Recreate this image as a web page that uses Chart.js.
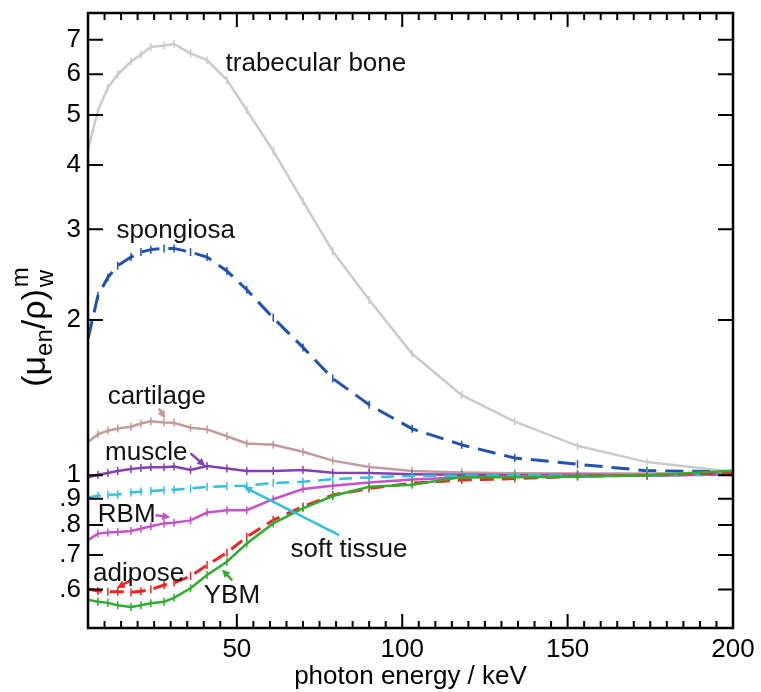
<!DOCTYPE html>
<html>
<head>
<meta charset="utf-8">
<title>mass energy absorption ratio</title>
<script src="https://cdn.jsdelivr.net/npm/chart.js@4.4.0/dist/chart.umd.min.js"></script>
<style>
    html, body { margin: 0; padding: 0; background: #fff; }
    #wrap { width: 761px; height: 692px; position: relative; }
</style>
</head>
<body>
<div id="wrap"><canvas id="chart"></canvas></div>
<script>
// photon energies (keV) of the plotted points
const energies = [5, 8, 11, 14, 18, 21, 24, 28, 31, 36, 41, 47, 53, 61, 70, 79, 90, 103, 118, 134, 153, 174, 200];

// (mu_en/rho) ratio medium / water
const trabecularBone = [4.28, 5.10, 5.65, 6.00, 6.35, 6.55, 6.78, 6.82, 6.87, 6.59, 6.39, 5.85, 5.11, 4.26, 3.40, 2.72, 2.19, 1.72, 1.43, 1.27, 1.14, 1.06, 1.015];
const spongiosa = [1.84, 2.23, 2.42, 2.55, 2.65, 2.71, 2.74, 2.755, 2.755, 2.71, 2.65, 2.49, 2.29, 2.02, 1.77, 1.54, 1.37, 1.23, 1.145, 1.08, 1.05, 1.02, 1.015];
const cartilage = [1.16, 1.20, 1.22, 1.232, 1.242, 1.26, 1.272, 1.265, 1.264, 1.236, 1.227, 1.19, 1.152, 1.145, 1.11, 1.067, 1.037, 1.019, 1.012, 1.008, 1.007, 1.007, 1.01];
const muscle = [0.99, 1.002, 1.01, 1.019, 1.028, 1.033, 1.036, 1.036, 1.039, 1.023, 1.042, 1.03, 1.019, 1.019, 1.023, 1.011, 1.01, 1.004, 1.002, 1.0, 1.002, 0.998, 1.005];
const softTissue = [0.905, 0.912, 0.916, 0.917, 0.925, 0.929, 0.932, 0.935, 0.937, 0.942, 0.949, 0.952, 0.954, 0.965, 0.971, 0.982, 0.99, 0.996, 0.998, 0.999, 1.0, 0.998, 1.003];
const rbm = [0.748, 0.770, 0.774, 0.776, 0.779, 0.787, 0.796, 0.806, 0.808, 0.817, 0.846, 0.855, 0.855, 0.898, 0.940, 0.954, 0.968, 0.981, 0.99, 0.995, 1.0, 0.998, 1.003];
const adipose = [0.601, 0.596, 0.594, 0.594, 0.592, 0.595, 0.600, 0.612, 0.618, 0.637, 0.669, 0.707, 0.759, 0.818, 0.869, 0.915, 0.942, 0.965, 0.978, 0.985, 0.995, 1.0, 1.01];
const ybm = [0.573, 0.568, 0.565, 0.559, 0.555, 0.559, 0.564, 0.568, 0.578, 0.603, 0.640, 0.679, 0.737, 0.806, 0.862, 0.911, 0.949, 0.958, 0.992, 0.991, 0.993, 1.0, 1.02];

// axis ticks
const xTickValues = [50, 100, 150, 200];
const yTickValues = [0.6, 0.7, 0.8, 0.9, 1, 2, 3, 4, 5, 6, 7];

// curve labels and their arrows, in data units (keV, ratio)
const curveLabels = [
    { text: 'trabecular bone', x: 73.9, y: 6.28 },
    { text: 'spongiosa', x: 31.5, y: 2.98 },
    { text: 'cartilage', x: 25.8, y: 1.42 },
    { text: 'muscle', x: 22.6, y: 1.106 },
    { text: 'RBM', x: 16.7, y: 0.836 },
    { text: 'soft tissue', x: 83.9, y: 0.715 },
    { text: 'adipose', x: 20.3, y: 0.642 },
    { text: 'YBM', x: 48.5, y: 0.582 }
];
const labelArrows = [
    { color: '#c49a9a', from: [26.4, 1.348], to: [28.4, 1.288] },
    { color: '#8340b3', from: [36.0, 1.102], to: [40.5, 1.041] },
    { color: '#c652c6', from: [25.4, 0.836], to: [29.9, 0.828] },
    { color: '#35bfdf', from: [80.9, 0.765], to: [52.1, 0.949] },
    { color: '#ee2525', from: [17.8, 0.625], to: [13.7, 0.603] },
    { color: '#30ad30', from: [48.6, 0.625], to: [45.5, 0.656] }
];

const FONT = '"Liberation Sans", Arial, Helvetica, sans-serif';

function series(label, values, color, width, dash) {
    return {
        label: label,
        data: values.map((v, i) => ({ x: energies[i], y: v })),
        borderColor: color,
        backgroundColor: color,
        borderWidth: width,
        borderDash: dash || [],
        pointStyle: 'line',
        rotation: 90,
        pointRadius: 4,
        pointBorderWidth: 1.5,
        pointBorderColor: color,
        tension: 0,
        fill: false
    };
}

// frame, inward ticks and axis titles
const framePlugin = {
    id: 'frame',
    afterDraw(chart) {
        const ctx = chart.ctx;
        const area = chart.chartArea;
        const xs = chart.scales.x;
        const ys = chart.scales.y;

        ctx.save();
        ctx.strokeStyle = '#000';
        ctx.lineWidth = 2.5;
        ctx.strokeRect(area.left, area.top, area.right - area.left, area.bottom - area.top);

        ctx.lineWidth = 2;
        ctx.beginPath();
        for (let e = 10; e < 200; e += 5) {
            const px = xs.getPixelForValue(e);
            const len = e % 50 === 0 ? 14 : 7;
            ctx.moveTo(px, area.bottom);
            ctx.lineTo(px, area.bottom - len);
            ctx.moveTo(px, area.top);
            ctx.lineTo(px, area.top + len);
        }
        yTickValues.forEach(v => {
            const py = ys.getPixelForValue(v);
            ctx.moveTo(area.left, py);
            ctx.lineTo(area.left + 15, py);
            ctx.moveTo(area.right, py);
            ctx.lineTo(area.right - 15, py);
        });
        ctx.stroke();

        // x title
        ctx.fillStyle = '#000';
        ctx.font = '26px ' + FONT;
        ctx.textAlign = 'center';
        ctx.textBaseline = 'middle';
        ctx.fillText('photon energy / keV', (area.left + area.right) / 2, 677);

        // y title: (μ_en/ρ)^m_w, rotated
        const big = '34px ' + FONT;
        const small = '24px ' + FONT;
        const parts = [
            { t: '(μ', f: big, dy: 0 },
            { t: 'en', f: small, dy: 7 },
            { t: '/ρ)', f: big, dy: 0 }
        ];
        let total = 0;
        parts.forEach(p => { ctx.font = p.f; p.w = ctx.measureText(p.t).width; total += p.w; });
        ctx.font = small;
        const supW = Math.max(ctx.measureText('m').width, ctx.measureText('w').width);
        total += supW;

        ctx.translate(45, 328);
        ctx.rotate(-Math.PI / 2);
        ctx.textAlign = 'left';
        ctx.textBaseline = 'alphabetic';
        let cx = -total / 2;
        parts.forEach(p => {
            ctx.font = p.f;
            ctx.fillText(p.t, cx, p.dy);
            cx += p.w;
        });
        ctx.font = small;
        ctx.fillText('m', cx + 2, -17);
        ctx.fillText('w', cx + 2, 8);
        ctx.restore();
    }
};

// curve names with small arrows pointing at the curves
const labelPlugin = {
    id: 'curveLabels',
    afterDatasetsDraw(chart) {
        const ctx = chart.ctx;
        const xs = chart.scales.x;
        const ys = chart.scales.y;
        ctx.save();

        labelArrows.forEach(a => {
            const x1 = xs.getPixelForValue(a.from[0]);
            const y1 = ys.getPixelForValue(a.from[1]);
            const x2 = xs.getPixelForValue(a.to[0]);
            const y2 = ys.getPixelForValue(a.to[1]);
            const ang = Math.atan2(y2 - y1, x2 - x1);
            const head = 9;
            ctx.strokeStyle = a.color;
            ctx.fillStyle = a.color;
            ctx.lineWidth = 2.5;
            ctx.beginPath();
            ctx.moveTo(x1, y1);
            ctx.lineTo(x2 - Math.cos(ang) * head * 0.8, y2 - Math.sin(ang) * head * 0.8);
            ctx.stroke();
            ctx.beginPath();
            ctx.moveTo(x2, y2);
            ctx.lineTo(x2 - head * Math.cos(ang - 0.45), y2 - head * Math.sin(ang - 0.45));
            ctx.lineTo(x2 - head * Math.cos(ang + 0.45), y2 - head * Math.sin(ang + 0.45));
            ctx.closePath();
            ctx.fill();
        });

        ctx.fillStyle = '#111';
        ctx.font = '26px ' + FONT;
        ctx.textAlign = 'center';
        ctx.textBaseline = 'middle';
        curveLabels.forEach(l => {
            ctx.fillText(l.text, xs.getPixelForValue(l.x), ys.getPixelForValue(l.y));
        });
        ctx.restore();
    }
};

const ctx = document.getElementById('chart').getContext('2d');
const chart = new Chart(ctx, {
    type: 'line',
    data: {
        datasets: [
            series('YBM', ybm, '#30ad30', 2.5),
            series('adipose', adipose, '#ee2525', 3, [14, 8]),
            series('soft tissue', softTissue, '#35bfdf', 2.5, [13, 8]),
            series('RBM', rbm, '#c652c6', 2.5),
            series('muscle', muscle, '#8340b3', 2.5),
            series('cartilage', cartilage, '#c49a9a', 2.5),
            series('spongiosa', spongiosa, '#1f52b5', 3, [18, 9]),
            series('trabecular bone', trabecularBone, '#cbcbcb', 2.5)
        ]
    },
    options: {
        responsive: true,
        maintainAspectRatio: false,
        animation: false,
        layout: {
            padding: { left: 0, right: 28, top: 13, bottom: 0 }
        },
        scales: {
            x: {
                type: 'linear',
                min: 5,
                max: 200,
                afterBuildTicks: (axis) => {
                    axis.ticks = xTickValues.map(v => ({ value: v }));
                },
                afterFit: (scale) => {
                    scale.height = 64;
                    scale.paddingLeft = 0;
                    scale.paddingRight = 0;
                },
                grid: { display: false, drawTicks: false },
                border: { display: false },
                ticks: {
                    autoSkip: false,
                    maxRotation: 0,
                    padding: 6,
                    color: '#000',
                    font: { family: FONT, size: 26 }
                }
            },
            y: {
                type: 'logarithmic',
                min: 0.505,
                max: 7.89,
                afterBuildTicks: (axis) => {
                    axis.ticks = yTickValues.map(v => ({ value: v }));
                },
                afterFit: (scale) => {
                    scale.width = 88;
                    // keep the plot top where the reference has it
                    scale.paddingTop = 0;
                    scale.paddingBottom = 0;
                },
                grid: { display: false, drawTicks: false },
                border: { display: false },
                ticks: {
                    autoSkip: false,
                    padding: 7,
                    color: '#000',
                    font: { family: FONT, size: 26 },
                    callback: (value) => value < 1 ? String(value).replace(/^0/, '') : String(value)
                }
            }
        },
        plugins: {
            legend: { display: false },
            tooltip: { enabled: false }
        }
    },
    plugins: [framePlugin, labelPlugin]
});
</script>
</body>
</html>
